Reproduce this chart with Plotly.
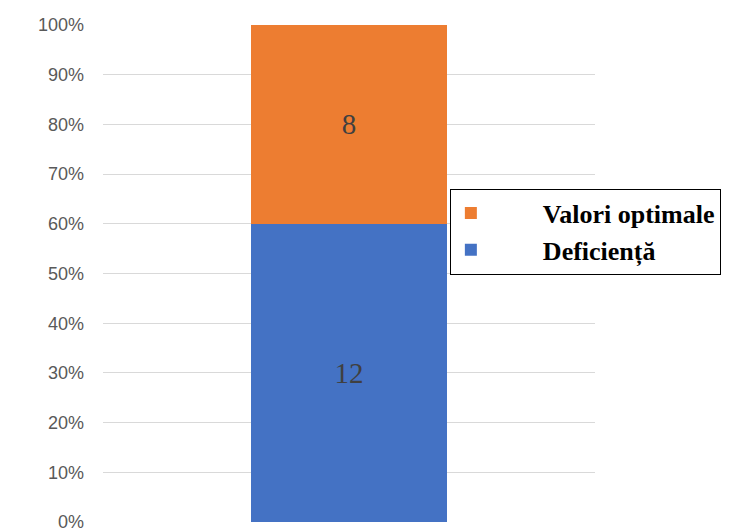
import plotly.graph_objects as go

categories = [""]
deficienta = [12]
optimale = [8]
series_names = ["Deficiență", "Valori optimale"]
tick_vals = [0, 10, 20, 30, 40, 50, 60, 70, 80, 90, 100]
tick_text = [f"{v}%" for v in tick_vals]

pad = "\u00a0" * 8
label_font = dict(family="Liberation Serif", size=29, color="#404040")

fig = go.Figure()
fig.add_trace(go.Bar(
    x=categories, y=deficienta, name=pad + series_names[0],
    marker=dict(color="#4472C4", line=dict(width=0)),
    text=deficienta, texttemplate="%{text}", textposition="inside",
    insidetextanchor="middle", textfont=label_font,
))
fig.add_trace(go.Bar(
    x=categories, y=optimale, name=pad + series_names[1],
    marker=dict(color="#ED7D31", line=dict(width=0)),
    text=optimale, texttemplate="%{text}", textposition="inside",
    insidetextanchor="middle", textfont=label_font,
))

fig.update_layout(
    barmode="stack", barnorm="percent", bargap=0.6,
    width=732, height=529,
    margin=dict(l=95, r=145, t=17, b=15, autoexpand=False),
    plot_bgcolor="white", paper_bgcolor="white",
    showlegend=True,
    legend=dict(
        x=0.705, y=0.671, xanchor="left", yanchor="top",
        bordercolor="#000000", borderwidth=1, bgcolor="white",
        font=dict(family="Liberation Serif", size=26, color="#000000", weight="bold"),
        itemwidth=30, traceorder="reversed",
    ),
    yaxis=dict(
        range=[0, 100], tickmode="array", tickvals=tick_vals, ticktext=tick_text,
        showgrid=True, gridcolor="#D9D9D9", gridwidth=1,
        zeroline=False, showline=False, automargin=False,
        tickfont=dict(family="Liberation Sans", size=18, color="#595959"),
        ticklen=0, ticks="", ticklabelstandoff=18,
    ),
    xaxis=dict(showticklabels=False, showgrid=False, zeroline=False, showline=False),
    uniformtext=dict(mode=False),
)

fig.write_html("out.html")
